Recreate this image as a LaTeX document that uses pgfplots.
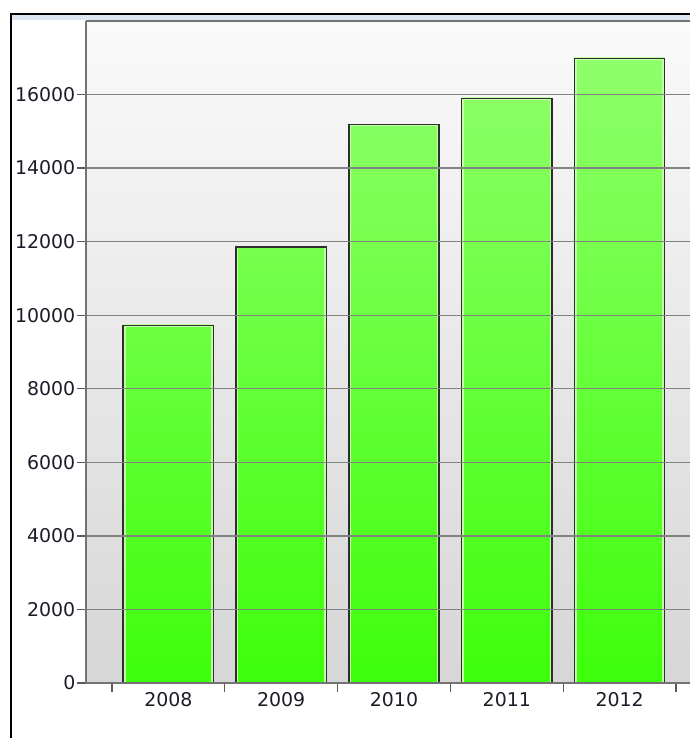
\documentclass[border=0pt]{standalone}
\usepackage{pgfplots}
\usepackage{pgfplotstable}
\usepackage{fontspec}
\setmainfont{DejaVu Sans}
\pgfplotsset{compat=1.18}

\definecolor{bartop}{HTML}{8FFF6B}
\definecolor{barbot}{HTML}{3DFF0A}
\definecolor{barhi}{HTML}{C4FFA8}
\definecolor{barline}{HTML}{2E2E2E}
\definecolor{gridc}{HTML}{828282}
\definecolor{labc}{HTML}{1C1C28}
\definecolor{band}{HTML}{DCE7F1}

\pgfplotstableread{
x y
0 9720
1 11850
2 15180
3 15890
4 16980
}\sales

\begin{document}
\begin{tikzpicture}
    % outer frame of the screenshot
    \fill[band] (12bp,718bp) rectangle (690bp,723bp);
    \draw[black, line width=1.8bp] (11bp,-5bp) -- (11bp,724bp) -- (700bp,724bp);

    \begin{axis}[
            at={(86bp,55bp)}, anchor=south west,
            scale only axis,
            width=604bp, height=662bp,
            xmin=-0.730, xmax=4.624,
            ymin=0, ymax=18000,
            axis x line*=box,
            axis y line*=left,
            xtick pos=bottom,
            axis on top,
            axis line style={draw=black!55, line width=1.8bp},
            axis background/.style={shade, top color=white!98!black, middle color=white!94!black, bottom color=white!84!black},
            ytick={0,2000,...,16000},
            scaled y ticks=false,
            ymajorgrids,
            major grid style={draw=gridc, line width=1.3bp},
            tick align=outside,
            major tick length=9bp,
            tick style={draw=black!65, line width=1.3bp},
            xtick={-0.5,0.5,1.5,2.5,3.5,4.5},
            xticklabels={},
            extra x ticks={0,1,2,3,4},
            extra x tick labels={2008,2009,2010,2011,2012},
            extra x tick style={major tick length=0pt, grid=none},
            tick label style={font=\fontsize{19}{21}\selectfont, text=labc},
            yticklabel style={inner xsep=1.5bp},
            xticklabel style={inner ysep=9bp},
            /pgf/number format/1000 sep={},
            /pgf/number format/assume math mode=true,
        ]
        \addplot[ybar, bar shift=0pt, bar width=0.78,
            top color=bartop, bottom color=barbot,
            draw=barhi, line width=2.4bp] table[x=x, y=y] {\sales};
        \addplot[ybar, bar shift=0pt, bar width=0.8,
            fill=none, draw=barline, line width=1.5bp] table[x=x, y=y] {\sales};
    \end{axis}

    \pgfresetboundingbox
    \path[use as bounding box] (0,0) rectangle (690bp,738bp);
\end{tikzpicture}
\end{document}
